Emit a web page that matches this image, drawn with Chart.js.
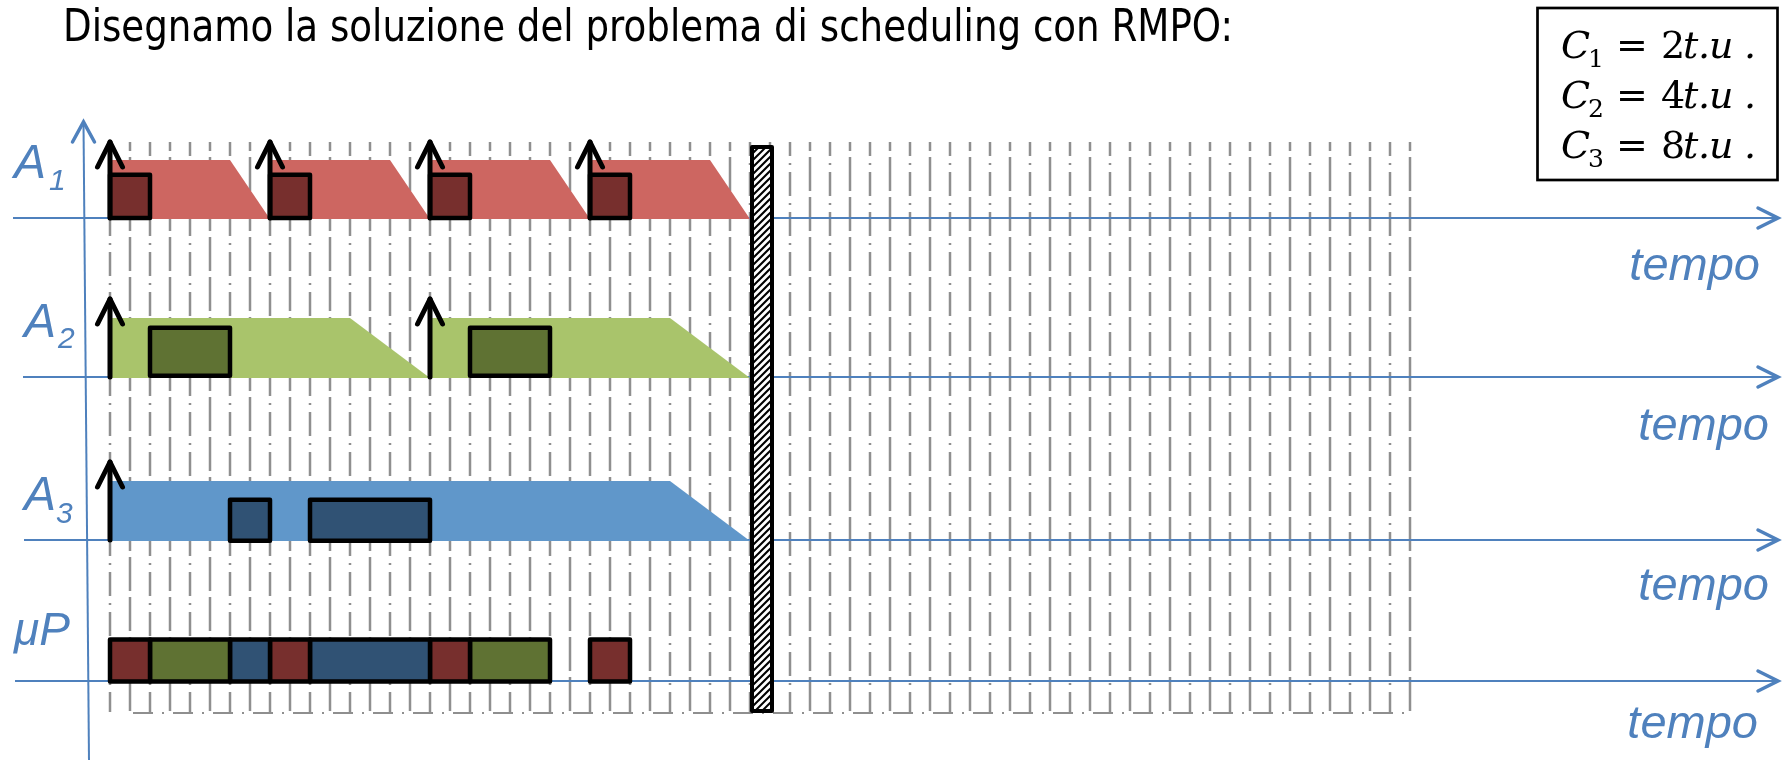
<!DOCTYPE html>
<html>
<head>
<meta charset="utf-8">
<script src="https://cdn.jsdelivr.net/npm/chart.js@4.4.1/dist/chart.umd.min.js"></script>
<style>
  html, body { margin: 0; padding: 0; background: #fff; }
  canvas { display: block; }
</style>
</head>
<body>
<canvas id="rmpoChart" width="1784" height="760"></canvas>
<script>
// RMPO schedule, time in t.u.
const taskNames = ['A1', 'A2', 'A3'];
const computeTimes = [2, 4, 8];
const releasesA1 = [0, 8, 16, 24];
const releasesA2 = [0, 16];
const releasesA3 = [0];
const flatEndA1 = [6, 14, 22, 30];
const flatEndA2 = [12, 28];
const flatEndA3 = [28];
const deadlinesA1 = [8, 16, 24, 32];
const deadlinesA2 = [16, 32];
const deadlinesA3 = [32];
const runStartA1 = [0, 8, 16, 24];
const runEndA1 = [2, 10, 18, 26];
const runStartA2 = [2, 18];
const runEndA2 = [6, 22];
const runStartA3 = [6, 10];
const runEndA3 = [8, 16];
const cpuTasks = ['A1', 'A2', 'A3', 'A1', 'A3', 'A1', 'A2', 'A1'];
const cpuStart = [0, 2, 6, 8, 10, 16, 18, 24];
const cpuEnd = [2, 6, 8, 10, 16, 18, 22, 26];
const hyperPeriod = 32;
const timeTicks = Array.from({length: 66}, (_, i) => i);

const title = 'Disegnamo la soluzione del problema di scheduling con RMPO:';
const axisLabel = 'tempo';

const colors = {
  A1: {light: '#CD6661', dark: '#772F2D'},
  A2: {light: '#A9C46B', dark: '#5F7233'},
  A3: {light: '#6097CA', dark: '#305274'}
};
const blue = '#4F81BD';
const gridColor = '#8F8F8F';

// vertical layout, y scale is in page pixels
const rows = {
  A1: {base: 218, flatTop: 160, boxTop: 174.7, boxBottom: 218, tip: 142, axisFrom: 13, tempoRight: 1760, tempoY: 280},
  A2: {base: 377, flatTop: 318, boxTop: 327.7, boxBottom: 375.7, tip: 299, axisFrom: 23, tempoRight: 1769, tempoY: 440},
  A3: {base: 540, flatTop: 481, boxTop: 499.7, boxBottom: 540.7, tip: 462, axisFrom: 24, tempoRight: 1769, tempoY: 600},
  uP: {base: 681, boxTop: 639.5, boxBottom: 681.5, axisFrom: 15, tempoRight: 1758, tempoY: 738}
};

const releases = {A1: releasesA1, A2: releasesA2, A3: releasesA3};
const flatEnds = {A1: flatEndA1, A2: flatEndA2, A3: flatEndA3};
const deadlines = {A1: deadlinesA1, A2: deadlinesA2, A3: deadlinesA3};
const runs = {A1: [runStartA1, runEndA1], A2: [runStartA2, runEndA2], A3: [runStartA3, runEndA3]};

function shape(points, fill, stroke, order) {
  return {
    data: points,
    showLine: true,
    fill: 'shape',
    backgroundColor: fill,
    borderColor: stroke || 'rgba(0,0,0,0)',
    borderWidth: stroke ? 4.5 : 1,
    borderJoinStyle: 'round',
    borderCapStyle: 'round',
    pointRadius: 0,
    tension: 0,
    order: order
  };
}

function box(s, e, top, bottom, fill) {
  return shape([
    {x: s, y: bottom}, {x: s, y: top}, {x: e, y: top}, {x: e, y: bottom}, {x: s, y: bottom}
  ], fill, '#000', 2);
}

const datasets = [];
taskNames.forEach(name => {
  const r = rows[name];
  releases[name].forEach((rel, j) => {
    datasets.push(shape([
      {x: rel, y: r.base + 1}, {x: rel, y: r.flatTop},
      {x: flatEnds[name][j], y: r.flatTop}, {x: deadlines[name][j], y: r.base + 1},
      {x: rel, y: r.base + 1}
    ], colors[name].light, null, 3));
  });
  runs[name][0].forEach((s, j) => {
    datasets.push(box(s, runs[name][1][j], r.boxTop, r.boxBottom, colors[name].dark));
  });
});
cpuTasks.forEach((name, j) => {
  datasets.push(box(cpuStart[j], cpuEnd[j], rows.uP.boxTop, rows.uP.boxBottom, colors[name].dark));
});

function chevron(ctx, tipX, tipY, dx, dy, ex, ey) {
  ctx.beginPath();
  ctx.moveTo(tipX + dx, tipY + dy);
  ctx.lineTo(tipX, tipY);
  ctx.lineTo(tipX + ex, tipY + ey);
  ctx.stroke();
}

const drawing = {
  id: 'drawing',
  beforeDatasetsDraw(chart) {
    const {ctx, scales: {x, y}} = chart;
    ctx.save();
    // dashed time grid
    ctx.strokeStyle = gridColor;
    ctx.lineWidth = 2.5;
    timeTicks.forEach(t => {
      const px = x.getPixelForValue(t);
      if (t % 2 === 0) { ctx.setLineDash([24, 7, 2, 7]); ctx.lineDashOffset = 10; }
      else { ctx.setLineDash([34, 6]); ctx.lineDashOffset = 25; }
      ctx.beginPath();
      ctx.moveTo(px, y.getPixelForValue(142));
      ctx.lineTo(px, y.getPixelForValue(712));
      ctx.stroke();
    });
    ctx.lineWidth = 2;
    ctx.setLineDash([20, 9, 2, 9]);
    ctx.lineDashOffset = 0;
    ctx.beginPath();
    ctx.moveTo(x.getPixelForValue(1.15), y.getPixelForValue(713));
    ctx.lineTo(x.getPixelForValue(timeTicks[timeTicks.length - 1]), y.getPixelForValue(713));
    ctx.stroke();
    ctx.setLineDash([]);

    // blue time axes
    ctx.strokeStyle = blue;
    Object.values(rows).forEach(r => {
      const py = y.getPixelForValue(r.base);
      ctx.lineWidth = 2;
      ctx.beginPath();
      ctx.moveTo(r.axisFrom, py);
      ctx.lineTo(1777, py);
      ctx.stroke();
      ctx.lineWidth = 3.5;
      ctx.lineCap = 'round';
      chevron(ctx, 1778, py, -20, -10, -20, 10);
      ctx.lineCap = 'butt';
    });
    ctx.lineWidth = 2;
    ctx.beginPath();
    ctx.moveTo(83.5, 123);
    ctx.lineTo(89, 760);
    ctx.stroke();
    ctx.lineWidth = 3.5;
    ctx.lineCap = 'round';
    chevron(ctx, 83.5, 122, -11, 20, 11, 20);
    ctx.restore();
  },
  afterDatasetsDraw(chart) {
    const {ctx, scales: {x, y}} = chart;
    ctx.save();
    // release arrows
    ctx.strokeStyle = '#000';
    ctx.lineWidth = 5;
    ctx.lineCap = 'round';
    ctx.lineJoin = 'round';
    taskNames.forEach(name => {
      const r = rows[name];
      releases[name].forEach(rel => {
        const px = x.getPixelForValue(rel);
        const tip = y.getPixelForValue(r.tip);
        ctx.beginPath();
        ctx.moveTo(px, y.getPixelForValue(r.base));
        ctx.lineTo(px, tip);
        ctx.stroke();
        chevron(ctx, px, tip, -12.5, 25, 12.5, 25);
      });
    });

    // hyperperiod bar
    const bx = x.getPixelForValue(hyperPeriod) + 2;
    const bw = 20;
    const by = y.getPixelForValue(147);
    const bh = y.getPixelForValue(711) - by;
    ctx.fillStyle = '#fff';
    ctx.fillRect(bx, by, bw, bh);
    ctx.save();
    ctx.beginPath();
    ctx.rect(bx, by, bw, bh);
    ctx.clip();
    ctx.lineWidth = 2;
    ctx.lineCap = 'butt';
    for (let k = -bw; k < bh + bw; k += 7) {
      ctx.beginPath();
      ctx.moveTo(bx, by + k + bw);
      ctx.lineTo(bx + bw, by + k);
      ctx.stroke();
    }
    ctx.restore();
    ctx.lineWidth = 4;
    ctx.lineJoin = 'round';
    ctx.strokeRect(bx, by, bw, bh);
    ctx.restore();
  },
  afterDraw(chart) {
    const {ctx} = chart;
    ctx.save();
    ctx.textBaseline = 'alphabetic';
    // title
    ctx.fillStyle = '#000';
    ctx.font = '44px "DejaVu Sans"';
    const tw = ctx.measureText(title).width;
    ctx.save();
    ctx.translate(63, 41);
    ctx.scale(1170 / tw, 1);
    ctx.fillText(title, 0, 0);
    ctx.restore();

    // row labels
    ctx.fillStyle = blue;
    const labelPos = {
      A1: [14, 178, 49, 190],
      A2: [24, 337, 58, 348],
      A3: [24, 510, 56, 523]
    };
    taskNames.forEach(name => {
      const p = labelPos[name];
      ctx.font = 'italic 48px "Liberation Sans"';
      ctx.fillText('A', p[0], p[1]);
      ctx.font = 'italic 30px "Liberation Sans"';
      ctx.fillText(name.slice(1), p[2], p[3]);
    });
    ctx.font = 'italic 46px "Liberation Sans"';
    ctx.fillText('\u03bcP', 14, 645);

    ctx.font = 'italic 47px "Liberation Sans"';
    ctx.textAlign = 'right';
    Object.values(rows).forEach(r => ctx.fillText(axisLabel, r.tempoRight, r.tempoY));
    ctx.textAlign = 'left';

    // computation times box
    ctx.strokeStyle = '#000';
    ctx.lineWidth = 2.7;
    ctx.strokeRect(1537.5, 8, 240, 172);
    ctx.fillStyle = '#000';
    computeTimes.forEach((c, i) => {
      const base = 58 + 50 * i;
      ctx.font = 'italic 38px "DejaVu Serif"';
      ctx.fillText('C', 1561, base);
      ctx.font = '25px "DejaVu Serif"';
      ctx.fillText(String(i + 1), 1588, base + 9);
      ctx.font = '38px "DejaVu Serif"';
      ctx.fillText('=', 1616, base);
      ctx.fillText(String(c), 1661, base);
      ctx.font = 'italic 38px "DejaVu Serif"';
      ctx.fillText('t', 1683, base);
      ctx.fillText('.', 1698, base);
      ctx.fillText('u', 1709, base);
      ctx.fillText('.', 1744, base);
    });
    ctx.restore();
  }
};

new Chart(document.getElementById('rmpoChart'), {
  type: 'scatter',
  data: {datasets: datasets},
  options: {
    responsive: false,
    animation: false,
    devicePixelRatio: 1,
    layout: {padding: 0},
    scales: {
      x: {type: 'linear', min: -5.5, max: 83.7, display: false},
      y: {type: 'linear', min: 0, max: 760, reverse: true, display: false}
    },
    plugins: {legend: {display: false}, tooltip: {enabled: false}},
    elements: {point: {radius: 0}}
  },
  plugins: [drawing]
});
</script>
</body>
</html>
